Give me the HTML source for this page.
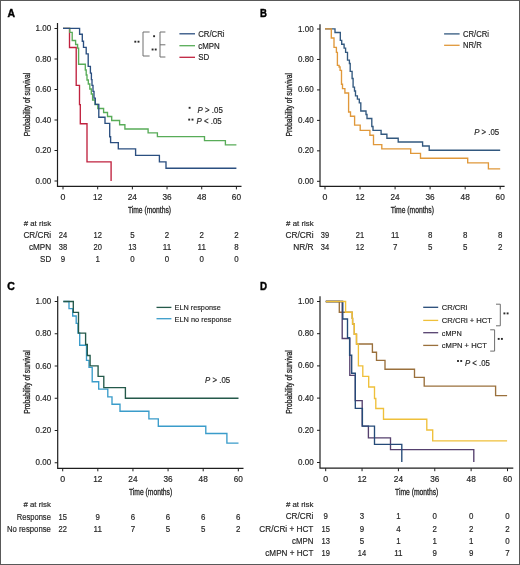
<!DOCTYPE html><html><head><meta charset="utf-8"><style>html,body{margin:0;padding:0;background:#fff;}svg{display:block;will-change:transform;}text{font-family:"Liberation Sans", sans-serif;fill:#262626;stroke:#262626;stroke-width:0.18px;}</style></head><body>
<svg width="520" height="565" viewBox="0 0 520 565">
<rect x="0" y="0" width="520" height="565" fill="#fff"/>
<rect x="0.5" y="0.5" width="519" height="564" fill="none" stroke="#595959" stroke-width="1"/>
<text x="7.4" y="16.8" font-size="11.6" font-weight="bold" textLength="7.5" lengthAdjust="spacingAndGlyphs" style="fill:#000;stroke:#000;stroke-width:0.45px">A</text>
<text x="260.0" y="16.75" font-size="11.6" font-weight="bold" textLength="6.9" lengthAdjust="spacingAndGlyphs" style="fill:#000;stroke:#000;stroke-width:0.45px">B</text>
<text x="7.3" y="290.2" font-size="11.6" font-weight="bold" textLength="7.6" lengthAdjust="spacingAndGlyphs" style="fill:#000;stroke:#000;stroke-width:0.45px">C</text>
<text x="260.1" y="289.8" font-size="11.6" font-weight="bold" textLength="7.0" lengthAdjust="spacingAndGlyphs" style="fill:#000;stroke:#000;stroke-width:0.45px">D</text>
<path d="M57.5,23.1 V186.4 H241.5" fill="none" stroke="#1e1e1e" stroke-width="1.2"/>
<path d="M54.5,181.00 H57.5" stroke="#1e1e1e" stroke-width="1"/>
<text x="51.1" y="183.50" font-size="8.2" text-anchor="end" textLength="15.6" lengthAdjust="spacingAndGlyphs">0.00</text>
<path d="M54.5,150.50 H57.5" stroke="#1e1e1e" stroke-width="1"/>
<text x="51.1" y="153.00" font-size="8.2" text-anchor="end" textLength="15.6" lengthAdjust="spacingAndGlyphs">0.20</text>
<path d="M54.5,120.00 H57.5" stroke="#1e1e1e" stroke-width="1"/>
<text x="51.1" y="122.50" font-size="8.2" text-anchor="end" textLength="15.6" lengthAdjust="spacingAndGlyphs">0.40</text>
<path d="M54.5,89.50 H57.5" stroke="#1e1e1e" stroke-width="1"/>
<text x="51.1" y="92.00" font-size="8.2" text-anchor="end" textLength="15.6" lengthAdjust="spacingAndGlyphs">0.60</text>
<path d="M54.5,59.00 H57.5" stroke="#1e1e1e" stroke-width="1"/>
<text x="51.1" y="61.50" font-size="8.2" text-anchor="end" textLength="15.6" lengthAdjust="spacingAndGlyphs">0.80</text>
<path d="M54.5,28.50 H57.5" stroke="#1e1e1e" stroke-width="1"/>
<text x="51.1" y="31.00" font-size="8.2" text-anchor="end" textLength="15.6" lengthAdjust="spacingAndGlyphs">1.00</text>
<path d="M63.00,186.4 V189.4" stroke="#1e1e1e" stroke-width="1"/>
<text x="63.00" y="199.8" font-size="8.2" text-anchor="middle" textLength="4.9" lengthAdjust="spacingAndGlyphs">0</text>
<path d="M97.68,186.4 V189.4" stroke="#1e1e1e" stroke-width="1"/>
<text x="97.68" y="199.8" font-size="8.2" text-anchor="middle" textLength="9.2" lengthAdjust="spacingAndGlyphs">12</text>
<path d="M132.36,186.4 V189.4" stroke="#1e1e1e" stroke-width="1"/>
<text x="132.36" y="199.8" font-size="8.2" text-anchor="middle" textLength="9.2" lengthAdjust="spacingAndGlyphs">24</text>
<path d="M167.04,186.4 V189.4" stroke="#1e1e1e" stroke-width="1"/>
<text x="167.04" y="199.8" font-size="8.2" text-anchor="middle" textLength="9.2" lengthAdjust="spacingAndGlyphs">36</text>
<path d="M201.72,186.4 V189.4" stroke="#1e1e1e" stroke-width="1"/>
<text x="201.72" y="199.8" font-size="8.2" text-anchor="middle" textLength="9.2" lengthAdjust="spacingAndGlyphs">48</text>
<path d="M236.40,186.4 V189.4" stroke="#1e1e1e" stroke-width="1"/>
<text x="236.40" y="199.8" font-size="8.2" text-anchor="middle" textLength="9.2" lengthAdjust="spacingAndGlyphs">60</text>
<text transform="translate(30,104.4) rotate(-90)" font-size="8.4" text-anchor="middle" textLength="63.5" lengthAdjust="spacingAndGlyphs" style="stroke-width:0.3px">Probability of survival</text>
<text x="149.50" y="213" font-size="8.4" text-anchor="middle" textLength="43.2" lengthAdjust="spacingAndGlyphs" style="stroke-width:0.3px">Time (months)</text>
<path d="M320,24.2 V186.4 H504.6" fill="none" stroke="#1e1e1e" stroke-width="1.2"/>
<path d="M317,181.30 H320" stroke="#1e1e1e" stroke-width="1"/>
<text x="313.6" y="183.80" font-size="8.2" text-anchor="end" textLength="15.6" lengthAdjust="spacingAndGlyphs">0.00</text>
<path d="M317,150.84 H320" stroke="#1e1e1e" stroke-width="1"/>
<text x="313.6" y="153.34" font-size="8.2" text-anchor="end" textLength="15.6" lengthAdjust="spacingAndGlyphs">0.20</text>
<path d="M317,120.38 H320" stroke="#1e1e1e" stroke-width="1"/>
<text x="313.6" y="122.88" font-size="8.2" text-anchor="end" textLength="15.6" lengthAdjust="spacingAndGlyphs">0.40</text>
<path d="M317,89.92 H320" stroke="#1e1e1e" stroke-width="1"/>
<text x="313.6" y="92.42" font-size="8.2" text-anchor="end" textLength="15.6" lengthAdjust="spacingAndGlyphs">0.60</text>
<path d="M317,59.46 H320" stroke="#1e1e1e" stroke-width="1"/>
<text x="313.6" y="61.96" font-size="8.2" text-anchor="end" textLength="15.6" lengthAdjust="spacingAndGlyphs">0.80</text>
<path d="M317,29.00 H320" stroke="#1e1e1e" stroke-width="1"/>
<text x="313.6" y="31.50" font-size="8.2" text-anchor="end" textLength="15.6" lengthAdjust="spacingAndGlyphs">1.00</text>
<path d="M325.00,186.4 V189.4" stroke="#1e1e1e" stroke-width="1"/>
<text x="325.00" y="199.8" font-size="8.2" text-anchor="middle" textLength="4.9" lengthAdjust="spacingAndGlyphs">0</text>
<path d="M360.04,186.4 V189.4" stroke="#1e1e1e" stroke-width="1"/>
<text x="360.04" y="199.8" font-size="8.2" text-anchor="middle" textLength="9.2" lengthAdjust="spacingAndGlyphs">12</text>
<path d="M395.08,186.4 V189.4" stroke="#1e1e1e" stroke-width="1"/>
<text x="395.08" y="199.8" font-size="8.2" text-anchor="middle" textLength="9.2" lengthAdjust="spacingAndGlyphs">24</text>
<path d="M430.12,186.4 V189.4" stroke="#1e1e1e" stroke-width="1"/>
<text x="430.12" y="199.8" font-size="8.2" text-anchor="middle" textLength="9.2" lengthAdjust="spacingAndGlyphs">36</text>
<path d="M465.16,186.4 V189.4" stroke="#1e1e1e" stroke-width="1"/>
<text x="465.16" y="199.8" font-size="8.2" text-anchor="middle" textLength="9.2" lengthAdjust="spacingAndGlyphs">48</text>
<path d="M500.20,186.4 V189.4" stroke="#1e1e1e" stroke-width="1"/>
<text x="500.20" y="199.8" font-size="8.2" text-anchor="middle" textLength="9.2" lengthAdjust="spacingAndGlyphs">60</text>
<text transform="translate(292.3,104.7) rotate(-90)" font-size="8.4" text-anchor="middle" textLength="63.5" lengthAdjust="spacingAndGlyphs" style="stroke-width:0.3px">Probability of survival</text>
<text x="412.30" y="213" font-size="8.4" text-anchor="middle" textLength="43.2" lengthAdjust="spacingAndGlyphs" style="stroke-width:0.3px">Time (months)</text>
<path d="M57.7,296.3 V468.3 H243.5" fill="none" stroke="#1e1e1e" stroke-width="1.2"/>
<path d="M54.7,462.75 H57.7" stroke="#1e1e1e" stroke-width="1"/>
<text x="51.1" y="465.25" font-size="8.2" text-anchor="end" textLength="15.6" lengthAdjust="spacingAndGlyphs">0.00</text>
<path d="M54.7,430.50 H57.7" stroke="#1e1e1e" stroke-width="1"/>
<text x="51.1" y="433.00" font-size="8.2" text-anchor="end" textLength="15.6" lengthAdjust="spacingAndGlyphs">0.20</text>
<path d="M54.7,398.25 H57.7" stroke="#1e1e1e" stroke-width="1"/>
<text x="51.1" y="400.75" font-size="8.2" text-anchor="end" textLength="15.6" lengthAdjust="spacingAndGlyphs">0.40</text>
<path d="M54.7,366.00 H57.7" stroke="#1e1e1e" stroke-width="1"/>
<text x="51.1" y="368.50" font-size="8.2" text-anchor="end" textLength="15.6" lengthAdjust="spacingAndGlyphs">0.60</text>
<path d="M54.7,333.75 H57.7" stroke="#1e1e1e" stroke-width="1"/>
<text x="51.1" y="336.25" font-size="8.2" text-anchor="end" textLength="15.6" lengthAdjust="spacingAndGlyphs">0.80</text>
<path d="M54.7,301.50 H57.7" stroke="#1e1e1e" stroke-width="1"/>
<text x="51.1" y="304.00" font-size="8.2" text-anchor="end" textLength="15.6" lengthAdjust="spacingAndGlyphs">1.00</text>
<path d="M62.70,468.3 V471.3" stroke="#1e1e1e" stroke-width="1"/>
<text x="62.70" y="481.6" font-size="8.2" text-anchor="middle" textLength="4.9" lengthAdjust="spacingAndGlyphs">0</text>
<path d="M97.82,468.3 V471.3" stroke="#1e1e1e" stroke-width="1"/>
<text x="97.82" y="481.6" font-size="8.2" text-anchor="middle" textLength="9.2" lengthAdjust="spacingAndGlyphs">12</text>
<path d="M132.95,468.3 V471.3" stroke="#1e1e1e" stroke-width="1"/>
<text x="132.95" y="481.6" font-size="8.2" text-anchor="middle" textLength="9.2" lengthAdjust="spacingAndGlyphs">24</text>
<path d="M168.07,468.3 V471.3" stroke="#1e1e1e" stroke-width="1"/>
<text x="168.07" y="481.6" font-size="8.2" text-anchor="middle" textLength="9.2" lengthAdjust="spacingAndGlyphs">36</text>
<path d="M203.20,468.3 V471.3" stroke="#1e1e1e" stroke-width="1"/>
<text x="203.20" y="481.6" font-size="8.2" text-anchor="middle" textLength="9.2" lengthAdjust="spacingAndGlyphs">48</text>
<path d="M238.32,468.3 V471.3" stroke="#1e1e1e" stroke-width="1"/>
<text x="238.32" y="481.6" font-size="8.2" text-anchor="middle" textLength="9.2" lengthAdjust="spacingAndGlyphs">60</text>
<text transform="translate(30,382.1) rotate(-90)" font-size="8.4" text-anchor="middle" textLength="63.5" lengthAdjust="spacingAndGlyphs" style="stroke-width:0.3px">Probability of survival</text>
<text x="150.60" y="494.8" font-size="8.4" text-anchor="middle" textLength="43.2" lengthAdjust="spacingAndGlyphs" style="stroke-width:0.3px">Time (months)</text>
<path d="M320,296.2 V468.2 H513.3" fill="none" stroke="#1e1e1e" stroke-width="1.2"/>
<path d="M317,462.50 H320" stroke="#1e1e1e" stroke-width="1"/>
<text x="313.6" y="465.00" font-size="8.2" text-anchor="end" textLength="15.6" lengthAdjust="spacingAndGlyphs">0.00</text>
<path d="M317,430.30 H320" stroke="#1e1e1e" stroke-width="1"/>
<text x="313.6" y="432.80" font-size="8.2" text-anchor="end" textLength="15.6" lengthAdjust="spacingAndGlyphs">0.20</text>
<path d="M317,398.10 H320" stroke="#1e1e1e" stroke-width="1"/>
<text x="313.6" y="400.60" font-size="8.2" text-anchor="end" textLength="15.6" lengthAdjust="spacingAndGlyphs">0.40</text>
<path d="M317,365.90 H320" stroke="#1e1e1e" stroke-width="1"/>
<text x="313.6" y="368.40" font-size="8.2" text-anchor="end" textLength="15.6" lengthAdjust="spacingAndGlyphs">0.60</text>
<path d="M317,333.70 H320" stroke="#1e1e1e" stroke-width="1"/>
<text x="313.6" y="336.20" font-size="8.2" text-anchor="end" textLength="15.6" lengthAdjust="spacingAndGlyphs">0.80</text>
<path d="M317,301.50 H320" stroke="#1e1e1e" stroke-width="1"/>
<text x="313.6" y="304.00" font-size="8.2" text-anchor="end" textLength="15.6" lengthAdjust="spacingAndGlyphs">1.00</text>
<path d="M325.70,468.2 V471.2" stroke="#1e1e1e" stroke-width="1"/>
<text x="325.70" y="481.5" font-size="8.2" text-anchor="middle" textLength="4.9" lengthAdjust="spacingAndGlyphs">0</text>
<path d="M362.06,468.2 V471.2" stroke="#1e1e1e" stroke-width="1"/>
<text x="362.06" y="481.5" font-size="8.2" text-anchor="middle" textLength="9.2" lengthAdjust="spacingAndGlyphs">12</text>
<path d="M398.42,468.2 V471.2" stroke="#1e1e1e" stroke-width="1"/>
<text x="398.42" y="481.5" font-size="8.2" text-anchor="middle" textLength="9.2" lengthAdjust="spacingAndGlyphs">24</text>
<path d="M434.78,468.2 V471.2" stroke="#1e1e1e" stroke-width="1"/>
<text x="434.78" y="481.5" font-size="8.2" text-anchor="middle" textLength="9.2" lengthAdjust="spacingAndGlyphs">36</text>
<path d="M471.14,468.2 V471.2" stroke="#1e1e1e" stroke-width="1"/>
<text x="471.14" y="481.5" font-size="8.2" text-anchor="middle" textLength="9.2" lengthAdjust="spacingAndGlyphs">48</text>
<path d="M507.50,468.2 V471.2" stroke="#1e1e1e" stroke-width="1"/>
<text x="507.50" y="481.5" font-size="8.2" text-anchor="middle" textLength="9.2" lengthAdjust="spacingAndGlyphs">60</text>
<text transform="translate(292.3,382) rotate(-90)" font-size="8.4" text-anchor="middle" textLength="63.5" lengthAdjust="spacingAndGlyphs" style="stroke-width:0.3px">Probability of survival</text>
<text x="416.65" y="494.6" font-size="8.4" text-anchor="middle" textLength="43.2" lengthAdjust="spacingAndGlyphs" style="stroke-width:0.3px">Time (months)</text>
<path d="M63,28.4 H69.5 V47.5 H76.2 V85.4 H79.5 V104.6 H80.3 V123.7 H87 V161.8 H111.1 V181" fill="none" stroke="#c0223f" stroke-width="1.35" stroke-linejoin="miter"/>
<path d="M63,28.4 H69.8 V32.3 H72.2 V40.5 H75.6 V44.5 H77.6 V48.1 H78.6 V64.2 H85.3 V70 H86.2 V75 H87 V80 H88.3 V84 H89.8 V89 H91.3 V94 H92.6 V100 H95 V104.5 H97.8 V108.5 H103.6 V112.5 H107.5 V116.5 H111.7 V120.5 H119.6 V124.7 H124.9 V129 H148.1 V132.8 H157.4 V136.6 H204.5 V140.6 H225.4 V144.8 H236.4" fill="none" stroke="#58ac58" stroke-width="1.35" stroke-linejoin="miter"/>
<path d="M63,28.4 H79.6 V34.2 H82.3 V41.2 H83.5 V47.3 H86.2 V53.8 H88.2 V66.4 H90.4 V73.1 H91.4 V79.6 H92 V85.4 H93 V91.3 H94 V98.1 H95.3 V104.4 H98.8 V117.2 H105 V123.3 H109.7 V136.7 H110.6 V142.6 H118.3 V148.9 H135.6 V155.4 H159.4 V161.9 H166 V168.2 H236.4" fill="none" stroke="#2b4f80" stroke-width="1.35" stroke-linejoin="miter"/>
<path d="M325,28.9 H335 V32.5 H340.3 V40.4 H341.7 V44.2 H344.1 V48.1 H345.6 V52.4 H347.5 V60.1 H349.4 V63.5 H350.2 V71.3 H352.1 V78.5 H353.1 V87.1 H354.5 V91 H355.5 V95.8 H357.4 V99.1 H359.3 V102.8 H360.8 V111 H366 V114.5 H367 V118.5 H371.8 V126.5 H373 V130.4 H381.1 V134.2 H386.9 V138.2 H398.2 V142 H422.6 V146 H429.2 V150.2 H500.2" fill="none" stroke="#32587f" stroke-width="1.35" stroke-linejoin="miter"/>
<path d="M325,28.9 H331.3 V38 H334 V47.3 H336.4 V52.4 H337.4 V65.4 H339.1 V67 H340.1 V70.3 H341.5 V84.2 H342.5 V88.6 H344.9 V93 H348.6 V112 H350.5 V116.2 H354.6 V125.1 H360.2 V130.4 H369.9 V135.2 H373.5 V144.6 H381.8 V148.9 H410.7 V153.4 H420.5 V158.2 H467.7 V162.9 H488.4 V168.8 H500.2" fill="none" stroke="#e0983a" stroke-width="1.35" stroke-linejoin="miter"/>
<path d="M63.3,301.5 H69 V308.6 H72.7 V316 H76.2 V323.3 H78 V333 H79.7 V345.2 H86.5 V360.3 H89 V367.3 H92.2 V381.7 H98.7 V389.1 H107.8 V396.9 H112 V404.2 H120 V411.2 H148.9 V418.9 H158.3 V426.2 H205.8 V433.5 H226.9 V443.1 H238.5" fill="none" stroke="#3a9cca" stroke-width="1.35" stroke-linejoin="miter"/>
<path d="M63.3,301.5 H73.3 V312.3 H78.5 V333.1 H85.6 V344.5 H87.3 V355.5 H90.1 V365.9 H98.1 V376.4 H103.8 V387.6 H125.4 V398.2 H238.5" fill="none" stroke="#24594a" stroke-width="1.35" stroke-linejoin="miter"/>
<path d="M325.8,301.5 H339.3 V312.2 H352.2 V318.3 H352.6 V324 H354.3 V334.2 H356.5 V344 H372.4 V352.2 H376.5 V360.4 H385 V369.2 H414.5 V377.3 H424.2 V386.1 H495.6 V395.6 H507.1" fill="none" stroke="#9a703c" stroke-width="1.35" stroke-linejoin="miter"/>
<path d="M325.8,301.5 H342.2 V338.5 H349.8 V375.3 H355.3 V400.6 H362.2 V426.1 H368.4 V437.8 H390.5 V449.6 H473.8 V461.9" fill="none" stroke="#55406e" stroke-width="1.35" stroke-linejoin="miter"/>
<path d="M325.8,301.5 H342.8 V319 H347.5 V337.7 H349.6 V355.2 H351.7 V373.2 H355.3 V408.4 H362.4 V426.1 H374.5 V444.4 H401.8 V461.9" fill="none" stroke="#254a78" stroke-width="1.35" stroke-linejoin="miter"/>
<path d="M325.8,301.5 H345.6 V312.2 H352.2 V318.3 H352.6 V324 H354.3 V334.2 H356.5 V344 H358.4 V365.8 H362.8 V376.4 H368.7 V387 H374.5 V398.5 H375.8 V408.5 H383.5 V419.2 H426.8 V430 H432.7 V440.9 H507.1" fill="none" stroke="#efc03a" stroke-width="1.35" stroke-linejoin="miter"/>
<path d="M179.4,33.8 H195" stroke="#2b4f80" stroke-width="1.3"/>
<text x="198.2" y="36.8" font-size="8.5" textLength="26.4" lengthAdjust="spacingAndGlyphs">CR/CRi</text>
<path d="M179.4,45.7 H195" stroke="#58ac58" stroke-width="1.3"/>
<text x="198.2" y="48.7" font-size="8.5" textLength="21.5" lengthAdjust="spacingAndGlyphs">cMPN</text>
<path d="M179.4,57.3 H195" stroke="#c0223f" stroke-width="1.3"/>
<text x="198.2" y="60.3" font-size="8.5" textLength="11" lengthAdjust="spacingAndGlyphs">SD</text>
<path d="M149.6,32 H143 V56 H149.6" fill="none" stroke="#6e6e6e" stroke-width="1"/>
<path d="M165.4,32 H160 V57 H165.4 M160,44.8 H165.4" fill="none" stroke="#6e6e6e" stroke-width="1"/>
<rect x="134.35" y="40.75" width="1.90" height="1.90" fill="#2a2a2a"/>
<rect x="137.55" y="40.75" width="1.90" height="1.90" fill="#2a2a2a"/>
<rect x="153.15" y="35.25" width="1.90" height="1.90" fill="#2a2a2a"/>
<rect x="151.65" y="48.55" width="1.90" height="1.90" fill="#2a2a2a"/>
<rect x="154.75" y="48.55" width="1.90" height="1.90" fill="#2a2a2a"/>
<rect x="188.65" y="106.85" width="1.90" height="1.90" fill="#2a2a2a"/>
<text x="197.6" y="112.6" font-size="8.6" textLength="25.2" lengthAdjust="spacingAndGlyphs"><tspan font-style="italic">P</tspan> &gt; .05</text>
<rect x="188.25" y="118.65" width="1.90" height="1.90" fill="#2a2a2a"/>
<rect x="191.55" y="118.65" width="1.90" height="1.90" fill="#2a2a2a"/>
<text x="196.5" y="123.8" font-size="8.6" textLength="25.2" lengthAdjust="spacingAndGlyphs"><tspan font-style="italic">P</tspan> &lt; .05</text>
<path d="M444.1,33.9 H459.6" stroke="#32587f" stroke-width="1.3"/>
<text x="463" y="36.9" font-size="8.4" textLength="26" lengthAdjust="spacingAndGlyphs">CR/CRi</text>
<path d="M444.1,45.3 H459.6" stroke="#e0983a" stroke-width="1.3"/>
<text x="463" y="48.3" font-size="8.4" textLength="18.8" lengthAdjust="spacingAndGlyphs">NR/R</text>
<text x="474.2" y="134.8" font-size="8.6" textLength="25" lengthAdjust="spacingAndGlyphs"><tspan font-style="italic">P</tspan> &gt; .05</text>
<path d="M156.5,307.4 H171.4" stroke="#24594a" stroke-width="1.3"/>
<text x="174.6" y="310.2" font-size="7.9" textLength="46.1" lengthAdjust="spacingAndGlyphs">ELN response</text>
<path d="M156.5,318.7 H171.4" stroke="#3a9cca" stroke-width="1.3"/>
<text x="174.6" y="321.5" font-size="7.9" textLength="56.9" lengthAdjust="spacingAndGlyphs">ELN no response</text>
<text x="205.1" y="382.7" font-size="8.6" textLength="25" lengthAdjust="spacingAndGlyphs"><tspan font-style="italic">P</tspan> &gt; .05</text>
<path d="M423.2,307.3 H438.2" stroke="#254a78" stroke-width="1.3"/>
<text x="441.8" y="310.1" font-size="8.0" textLength="25.6" lengthAdjust="spacingAndGlyphs">CR/CRi</text>
<path d="M423.2,320.4 H438.2" stroke="#efc03a" stroke-width="1.3"/>
<text x="441.8" y="323.2" font-size="8.0" textLength="50.2" lengthAdjust="spacingAndGlyphs">CR/CRi + HCT</text>
<path d="M423.2,332.7 H438.2" stroke="#55406e" stroke-width="1.3"/>
<text x="441.8" y="335.5" font-size="8.0" textLength="19.9" lengthAdjust="spacingAndGlyphs">cMPN</text>
<path d="M423.2,345.4 H438.2" stroke="#9a703c" stroke-width="1.3"/>
<text x="441.8" y="348.2" font-size="8.0" textLength="45" lengthAdjust="spacingAndGlyphs">cMPN + HCT</text>
<path d="M496,304.2 H500.3 V325.8 H496" fill="none" stroke="#6e6e6e" stroke-width="1"/>
<path d="M490.2,329.8 H494.6 V351.1 H490.2" fill="none" stroke="#6e6e6e" stroke-width="1"/>
<rect x="503.45" y="312.45" width="1.90" height="1.90" fill="#2a2a2a"/>
<rect x="506.65" y="312.45" width="1.90" height="1.90" fill="#2a2a2a"/>
<rect x="497.75" y="337.95" width="1.90" height="1.90" fill="#2a2a2a"/>
<rect x="500.95" y="337.95" width="1.90" height="1.90" fill="#2a2a2a"/>
<rect x="457.05" y="360.05" width="1.90" height="1.90" fill="#2a2a2a"/>
<rect x="460.25" y="360.05" width="1.90" height="1.90" fill="#2a2a2a"/>
<text x="464.9" y="365.7" font-size="8.6" textLength="25" lengthAdjust="spacingAndGlyphs"><tspan font-style="italic">P</tspan> &lt; .05</text>
<text x="51.2" y="225.7" font-size="7.9" text-anchor="end" textLength="27.5" lengthAdjust="spacingAndGlyphs"># at risk</text>
<text x="51.2" y="237.8" font-size="8.5" text-anchor="end" textLength="27.8" lengthAdjust="spacingAndGlyphs">CR/CRi</text>
<text x="63.00" y="237.8" font-size="8.5" text-anchor="middle" textLength="8.4" lengthAdjust="spacingAndGlyphs">24</text>
<text x="97.68" y="237.8" font-size="8.5" text-anchor="middle" textLength="8.4" lengthAdjust="spacingAndGlyphs">12</text>
<text x="132.36" y="237.8" font-size="8.5" text-anchor="middle" textLength="4.4" lengthAdjust="spacingAndGlyphs">5</text>
<text x="167.04" y="237.8" font-size="8.5" text-anchor="middle" textLength="4.4" lengthAdjust="spacingAndGlyphs">2</text>
<text x="201.72" y="237.8" font-size="8.5" text-anchor="middle" textLength="4.4" lengthAdjust="spacingAndGlyphs">2</text>
<text x="236.40" y="237.8" font-size="8.5" text-anchor="middle" textLength="4.4" lengthAdjust="spacingAndGlyphs">2</text>
<text x="51.2" y="249.9" font-size="8.5" text-anchor="end" textLength="22.2" lengthAdjust="spacingAndGlyphs">cMPN</text>
<text x="63.00" y="249.9" font-size="8.5" text-anchor="middle" textLength="8.4" lengthAdjust="spacingAndGlyphs">38</text>
<text x="97.68" y="249.9" font-size="8.5" text-anchor="middle" textLength="8.4" lengthAdjust="spacingAndGlyphs">20</text>
<text x="132.36" y="249.9" font-size="8.5" text-anchor="middle" textLength="8.4" lengthAdjust="spacingAndGlyphs">13</text>
<text x="167.04" y="249.9" font-size="8.5" text-anchor="middle" textLength="8.4" lengthAdjust="spacingAndGlyphs">11</text>
<text x="201.72" y="249.9" font-size="8.5" text-anchor="middle" textLength="8.4" lengthAdjust="spacingAndGlyphs">11</text>
<text x="236.40" y="249.9" font-size="8.5" text-anchor="middle" textLength="4.4" lengthAdjust="spacingAndGlyphs">8</text>
<text x="51.2" y="262.0" font-size="8.5" text-anchor="end" textLength="11.1" lengthAdjust="spacingAndGlyphs">SD</text>
<text x="63.00" y="262.0" font-size="8.5" text-anchor="middle" textLength="4.4" lengthAdjust="spacingAndGlyphs">9</text>
<text x="97.68" y="262.0" font-size="8.5" text-anchor="middle" textLength="4.4" lengthAdjust="spacingAndGlyphs">1</text>
<text x="132.36" y="262.0" font-size="8.5" text-anchor="middle" textLength="4.4" lengthAdjust="spacingAndGlyphs">0</text>
<text x="167.04" y="262.0" font-size="8.5" text-anchor="middle" textLength="4.4" lengthAdjust="spacingAndGlyphs">0</text>
<text x="201.72" y="262.0" font-size="8.5" text-anchor="middle" textLength="4.4" lengthAdjust="spacingAndGlyphs">0</text>
<text x="236.40" y="262.0" font-size="8.5" text-anchor="middle" textLength="4.4" lengthAdjust="spacingAndGlyphs">0</text>
<text x="313.6" y="225.7" font-size="7.9" text-anchor="end" textLength="27.5" lengthAdjust="spacingAndGlyphs"># at risk</text>
<text x="313.6" y="237.8" font-size="8.5" text-anchor="end" textLength="28.2" lengthAdjust="spacingAndGlyphs">CR/CRi</text>
<text x="325.00" y="237.8" font-size="8.5" text-anchor="middle" textLength="8.4" lengthAdjust="spacingAndGlyphs">39</text>
<text x="360.04" y="237.8" font-size="8.5" text-anchor="middle" textLength="8.4" lengthAdjust="spacingAndGlyphs">21</text>
<text x="395.08" y="237.8" font-size="8.5" text-anchor="middle" textLength="8.4" lengthAdjust="spacingAndGlyphs">11</text>
<text x="430.12" y="237.8" font-size="8.5" text-anchor="middle" textLength="4.4" lengthAdjust="spacingAndGlyphs">8</text>
<text x="465.16" y="237.8" font-size="8.5" text-anchor="middle" textLength="4.4" lengthAdjust="spacingAndGlyphs">8</text>
<text x="500.20" y="237.8" font-size="8.5" text-anchor="middle" textLength="4.4" lengthAdjust="spacingAndGlyphs">8</text>
<text x="313.6" y="249.9" font-size="8.5" text-anchor="end" textLength="20.4" lengthAdjust="spacingAndGlyphs">NR/R</text>
<text x="325.00" y="249.9" font-size="8.5" text-anchor="middle" textLength="8.4" lengthAdjust="spacingAndGlyphs">34</text>
<text x="360.04" y="249.9" font-size="8.5" text-anchor="middle" textLength="8.4" lengthAdjust="spacingAndGlyphs">12</text>
<text x="395.08" y="249.9" font-size="8.5" text-anchor="middle" textLength="4.4" lengthAdjust="spacingAndGlyphs">7</text>
<text x="430.12" y="249.9" font-size="8.5" text-anchor="middle" textLength="4.4" lengthAdjust="spacingAndGlyphs">5</text>
<text x="465.16" y="249.9" font-size="8.5" text-anchor="middle" textLength="4.4" lengthAdjust="spacingAndGlyphs">5</text>
<text x="500.20" y="249.9" font-size="8.5" text-anchor="middle" textLength="4.4" lengthAdjust="spacingAndGlyphs">2</text>
<text x="50.9" y="507.4" font-size="7.9" text-anchor="end" textLength="27.5" lengthAdjust="spacingAndGlyphs"># at risk</text>
<text x="50.9" y="519.5" font-size="8.5" text-anchor="end" textLength="34.2" lengthAdjust="spacingAndGlyphs">Response</text>
<text x="62.70" y="519.5" font-size="8.5" text-anchor="middle" textLength="8.4" lengthAdjust="spacingAndGlyphs">15</text>
<text x="97.82" y="519.5" font-size="8.5" text-anchor="middle" textLength="4.4" lengthAdjust="spacingAndGlyphs">9</text>
<text x="132.95" y="519.5" font-size="8.5" text-anchor="middle" textLength="4.4" lengthAdjust="spacingAndGlyphs">6</text>
<text x="168.07" y="519.5" font-size="8.5" text-anchor="middle" textLength="4.4" lengthAdjust="spacingAndGlyphs">6</text>
<text x="203.20" y="519.5" font-size="8.5" text-anchor="middle" textLength="4.4" lengthAdjust="spacingAndGlyphs">6</text>
<text x="238.32" y="519.5" font-size="8.5" text-anchor="middle" textLength="4.4" lengthAdjust="spacingAndGlyphs">6</text>
<text x="50.9" y="531.6" font-size="8.5" text-anchor="end" textLength="43.9" lengthAdjust="spacingAndGlyphs">No response</text>
<text x="62.70" y="531.6" font-size="8.5" text-anchor="middle" textLength="8.4" lengthAdjust="spacingAndGlyphs">22</text>
<text x="97.82" y="531.6" font-size="8.5" text-anchor="middle" textLength="8.4" lengthAdjust="spacingAndGlyphs">11</text>
<text x="132.95" y="531.6" font-size="8.5" text-anchor="middle" textLength="4.4" lengthAdjust="spacingAndGlyphs">7</text>
<text x="168.07" y="531.6" font-size="8.5" text-anchor="middle" textLength="4.4" lengthAdjust="spacingAndGlyphs">5</text>
<text x="203.20" y="531.6" font-size="8.5" text-anchor="middle" textLength="4.4" lengthAdjust="spacingAndGlyphs">5</text>
<text x="238.32" y="531.6" font-size="8.5" text-anchor="middle" textLength="4.4" lengthAdjust="spacingAndGlyphs">2</text>
<text x="313.4" y="507.3" font-size="7.9" text-anchor="end" textLength="27.5" lengthAdjust="spacingAndGlyphs"># at risk</text>
<text x="313.4" y="519.4" font-size="8.5" text-anchor="end" textLength="27.7" lengthAdjust="spacingAndGlyphs">CR/CRi</text>
<text x="325.70" y="519.4" font-size="8.5" text-anchor="middle" textLength="4.4" lengthAdjust="spacingAndGlyphs">9</text>
<text x="362.06" y="519.4" font-size="8.5" text-anchor="middle" textLength="4.4" lengthAdjust="spacingAndGlyphs">3</text>
<text x="398.42" y="519.4" font-size="8.5" text-anchor="middle" textLength="4.4" lengthAdjust="spacingAndGlyphs">1</text>
<text x="434.78" y="519.4" font-size="8.5" text-anchor="middle" textLength="4.4" lengthAdjust="spacingAndGlyphs">0</text>
<text x="471.14" y="519.4" font-size="8.5" text-anchor="middle" textLength="4.4" lengthAdjust="spacingAndGlyphs">0</text>
<text x="507.50" y="519.4" font-size="8.5" text-anchor="middle" textLength="4.4" lengthAdjust="spacingAndGlyphs">0</text>
<text x="313.4" y="531.5" font-size="8.5" text-anchor="end" textLength="54.1" lengthAdjust="spacingAndGlyphs">CR/CRi + HCT</text>
<text x="325.70" y="531.5" font-size="8.5" text-anchor="middle" textLength="8.4" lengthAdjust="spacingAndGlyphs">15</text>
<text x="362.06" y="531.5" font-size="8.5" text-anchor="middle" textLength="4.4" lengthAdjust="spacingAndGlyphs">9</text>
<text x="398.42" y="531.5" font-size="8.5" text-anchor="middle" textLength="4.4" lengthAdjust="spacingAndGlyphs">4</text>
<text x="434.78" y="531.5" font-size="8.5" text-anchor="middle" textLength="4.4" lengthAdjust="spacingAndGlyphs">2</text>
<text x="471.14" y="531.5" font-size="8.5" text-anchor="middle" textLength="4.4" lengthAdjust="spacingAndGlyphs">2</text>
<text x="507.50" y="531.5" font-size="8.5" text-anchor="middle" textLength="4.4" lengthAdjust="spacingAndGlyphs">2</text>
<text x="313.4" y="543.6" font-size="8.5" text-anchor="end" textLength="21.3" lengthAdjust="spacingAndGlyphs">cMPN</text>
<text x="325.70" y="543.6" font-size="8.5" text-anchor="middle" textLength="8.4" lengthAdjust="spacingAndGlyphs">13</text>
<text x="362.06" y="543.6" font-size="8.5" text-anchor="middle" textLength="4.4" lengthAdjust="spacingAndGlyphs">5</text>
<text x="398.42" y="543.6" font-size="8.5" text-anchor="middle" textLength="4.4" lengthAdjust="spacingAndGlyphs">1</text>
<text x="434.78" y="543.6" font-size="8.5" text-anchor="middle" textLength="4.4" lengthAdjust="spacingAndGlyphs">1</text>
<text x="471.14" y="543.6" font-size="8.5" text-anchor="middle" textLength="4.4" lengthAdjust="spacingAndGlyphs">1</text>
<text x="507.50" y="543.6" font-size="8.5" text-anchor="middle" textLength="4.4" lengthAdjust="spacingAndGlyphs">0</text>
<text x="313.4" y="555.7" font-size="8.5" text-anchor="end" textLength="48.1" lengthAdjust="spacingAndGlyphs">cMPN + HCT</text>
<text x="325.70" y="555.7" font-size="8.5" text-anchor="middle" textLength="8.4" lengthAdjust="spacingAndGlyphs">19</text>
<text x="362.06" y="555.7" font-size="8.5" text-anchor="middle" textLength="8.4" lengthAdjust="spacingAndGlyphs">14</text>
<text x="398.42" y="555.7" font-size="8.5" text-anchor="middle" textLength="8.4" lengthAdjust="spacingAndGlyphs">11</text>
<text x="434.78" y="555.7" font-size="8.5" text-anchor="middle" textLength="4.4" lengthAdjust="spacingAndGlyphs">9</text>
<text x="471.14" y="555.7" font-size="8.5" text-anchor="middle" textLength="4.4" lengthAdjust="spacingAndGlyphs">9</text>
<text x="507.50" y="555.7" font-size="8.5" text-anchor="middle" textLength="4.4" lengthAdjust="spacingAndGlyphs">7</text>
</svg></body></html>
